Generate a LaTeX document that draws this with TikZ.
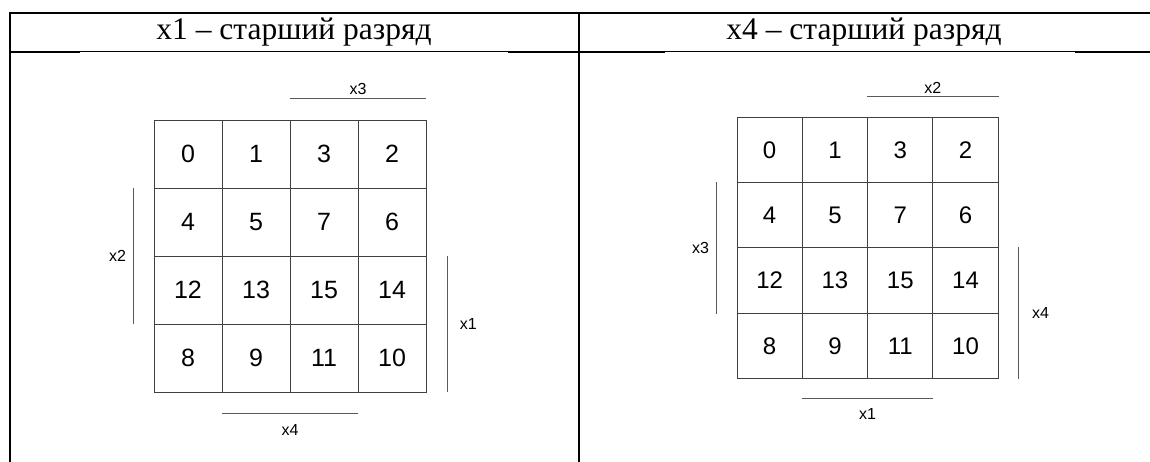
\documentclass[tikz,border=0pt]{standalone}
\usepackage{fontspec}
\setmainfont{Liberation Serif}
\newfontfamily\arialfont{Liberation Sans}
\usetikzlibrary{positioning}

\tikzset{
  lcell/.style={draw=black!75,line width=0.9pt,minimum size=68pt,inner sep=0pt,font=\arialfont\fontsize{25}{27}\selectfont},
  rcell/.style={draw=black!75,line width=0.9pt,minimum size=65.3pt,inner sep=0pt,font=\arialfont\fontsize{24}{26}\selectfont},
  bar/.style={draw=black!65,line width=1pt},
  varlabel/.style={font=\arialfont\fontsize{16}{18}\selectfont,inner sep=3pt},
  headtext/.style={font=\fontsize{31.5}{33}\selectfont}
}

\begin{document}
\begin{tikzpicture}[x=1pt,y=-1pt]
	\useasboundingbox (0,0) rectangle (1150,462);
	% table frame
	\draw[line width=2pt] (10,462) -- (10,13) -- (1150,13);
	\draw[line width=2pt] (579,13) -- (579,462);
	\draw[line width=1.7pt] (10,52) -- (80,52);
	\draw[line width=1pt] (80,52) -- (508,52);
	\draw[line width=1.7pt] (508,52) -- (665,52);
	\draw[line width=1pt] (665,52) -- (1075,52);
	\draw[line width=1.7pt] (1075,52) -- (1150,52);
	\node[headtext] (headleft) at (294,32) {x1 – старший разряд};
	\node[headtext] (headright) at (864,32) {x4 – старший разряд};
	% left map
	\foreach \row [count=\r from 0] in {{0,1,3,2},{4,5,7,6},{12,13,15,14},{8,9,11,10}}
		\foreach \v [count=\c from 0] in \row
			\node[lcell] (a-\r-\c) at ({188+68*\c},{154+68*\r}) {\v};
	\draw[bar] ([yshift=21pt]a-0-2.north west) -- node[varlabel,above=0pt] (ax3) {x3} ([yshift=21pt]a-0-3.north east);
	\draw[bar] ([xshift=-20pt]a-1-0.north west) -- node[varlabel,left=4pt] (ax2) {x2} ([xshift=-20pt]a-2-0.south west);
	\draw[bar] ([xshift=21pt]a-2-3.north east) -- node[varlabel,right=9pt] (ax1) {x1} ([xshift=21pt]a-3-3.south east);
	\draw[bar] ([yshift=-21pt]a-3-1.south west) -- node[varlabel,below=8pt] (ax4) {x4} ([yshift=-21pt]a-3-2.south east);
	% right map
	\foreach \row [count=\r from 0] in {{0,1,3,2},{4,5,7,6},{12,13,15,14},{8,9,11,10}}
		\foreach \v [count=\c from 0] in \row
			\node[rcell] (b-\r-\c) at ({769.65+65.3*\c},{149.95+65.3*\r}) {\v};
	\draw[bar] ([yshift=20pt]b-0-2.north west) -- node[varlabel,above=0pt] (bx2) {x2} ([yshift=20pt]b-0-3.north east);
	\draw[bar] ([xshift=-20pt]b-1-0.north west) -- node[varlabel,left=4pt] (bx3) {x3} ([xshift=-20pt]b-2-0.south west);
	\draw[bar] ([xshift=20pt]b-2-3.north east) -- node[varlabel,right=10pt] (bx4) {x4} ([xshift=20pt]b-3-3.south east);
	\draw[bar] ([yshift=-20pt]b-3-1.south west) -- node[varlabel,below=6pt] (bx1) {x1} ([yshift=-20pt]b-3-2.south east);
\end{tikzpicture}
\end{document}
